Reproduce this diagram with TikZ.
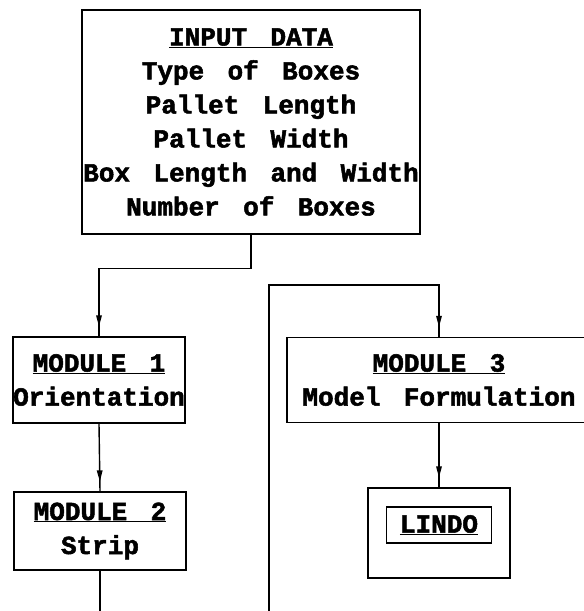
\documentclass[tikz,border=0pt]{standalone}
\usepackage{fontspec}
\setmainfont{Liberation Mono}[WordSpace=1.5, BoldFeatures={FakeBold=2}]
\usetikzlibrary{decorations.markings}

\tikzset{
  box/.style={draw, line width=1.4pt, align=center, inner sep=0pt,
    font=\fontsize{26}{34}\selectfont\bfseries},
  flow/.style={line width=1.4pt, postaction={decorate},
    decoration={markings, mark=at position -12pt with
      {\fill (-9pt,-3pt) -- (2pt,0pt) -- (-9pt,3pt) -- cycle;}}},
  wire/.style={line width=1.4pt}
}

\begin{document}
\begin{tikzpicture}[x=1pt,y=-1pt]
  \useasboundingbox (0,0) rectangle (584,611);

  \node[box, minimum width=338pt, minimum height=224pt] (input) at (251,122)
    {\underline{INPUT DATA}\\Type of Boxes\\Pallet Length\\Pallet Width\\Box Length and Width\\Number of Boxes};

  \node[box, minimum width=172pt, minimum height=86pt] (mod1) at (99,380)
    {\underline{MODULE 1}\\Orientation};
  \node[box, minimum width=172pt, minimum height=78pt] (mod2) at (100,531)
    {\underline{MODULE 2}\\Strip};
  \node[box, minimum width=304pt, minimum height=85pt] (mod3) at (439,380)
    {\underline{MODULE 3}\\Model Formulation};

  \node[draw, line width=1.4pt, minimum width=142pt, minimum height=90pt] (solver) at (439,533) {};
  \node[box, minimum width=105pt, minimum height=36pt] (lindo) at (439,525)
    {\underline{LINDO}};

  \coordinate (out) at (100,611);
  \coordinate (back) at (269,611);

  \draw[flow] (input.south) -- ++(0,34) -| (mod1.north);
  \draw[flow] (mod1.south) -- (mod2.north);
  \draw[wire] (mod2.south) -- (out);
  \draw[flow] (back) |- ++(170,-326) -- (mod3.north);
  \draw[flow] (mod3.south) -- (solver.north);
\end{tikzpicture}
\end{document}
